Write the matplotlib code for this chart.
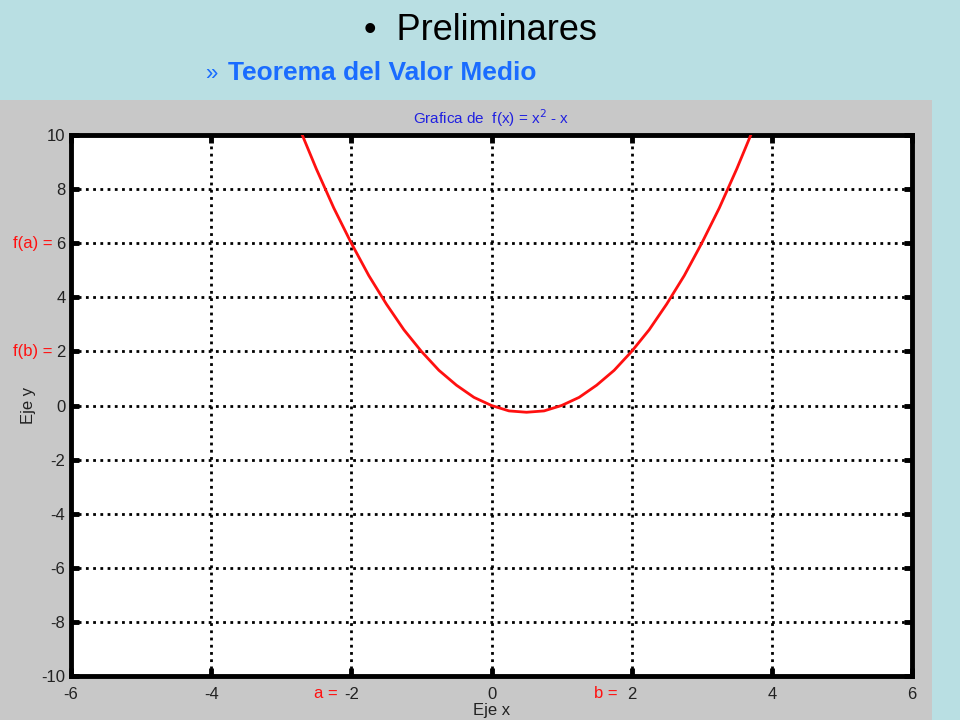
import matplotlib.pyplot as plt
from matplotlib.patches import Rectangle

# curve points
x_vals = [-2.7, -2.5, -2.25, -2, -1.75, -1.5, -1.25, -1, -0.75, -0.5, -0.25, 0,
          0.25, 0.5, 0.75, 1, 1.25, 1.5, 1.75, 2, 2.25, 2.5, 2.75, 3, 3.25, 3.5, 3.7]
y_vals = [10.0, 8.75, 7.3, 6.0, 4.8, 3.75, 2.8, 2.0, 1.3, 0.75, 0.3, 0.0,
          -0.2, -0.25, -0.2, 0.0, 0.3, 0.75, 1.3, 2.0, 2.8, 3.75, 4.8, 6.0, 7.3, 8.75, 10.0]
x_ticks = [-6, -4, -2, 0, 2, 4, 6]
y_ticks = [-10, -8, -6, -4, -2, 0, 2, 4, 6, 8, 10]
a, b = -2, 2
fa, fb = 6, 2

plt.rcParams['font.family'] = ['Liberation Sans', 'DejaVu Sans']
plt.rcParams['axes.unicode_minus'] = False

fig = plt.figure(figsize=(9.6, 7.2), dpi=100)
fig.patch.set_facecolor('#b9dfe3')

# grey matlab figure panel
fig.add_artist(Rectangle((0, 0), 932/960, 620/720, transform=fig.transFigure,
                         facecolor='#c8c8c8', edgecolor='none', zorder=-10))

fig.text(0.5, 1 - 30/720, '•  Preliminares', ha='center', va='center', fontsize=26)
fig.text(205/960, 1 - 74/720, '»', ha='left', va='center', fontsize=16, color='#1a6cff')
fig.text(228/960, 1 - 73/720, 'Teorema del Valor Medio', ha='left', va='center',
         fontsize=19, fontweight='bold', color='#1a6cff')

ax = fig.add_axes([71/960, 1 - 676/720, 841/960, 541/720])
ax.set_facecolor('white')
ax.plot(x_vals, y_vals, color='#ff1010', lw=2, zorder=3)
ax.set_xlim(-6, 6)
ax.set_ylim(-10, 10)
ax.set_xticks(x_ticks)
ax.set_yticks(y_ticks)
ax.grid(True, color='black', linestyle=(0, (1, 1.6)), linewidth=2)
for s in ax.spines.values():
    s.set_linewidth(3.5)
ax.tick_params(direction='in', length=6, width=3.5, labelsize=12,
               labelcolor='#222222', top=True, right=True)
ax.tick_params(axis='x', pad=8)
ax.tick_params(axis='y', pad=4)

ax.set_title('Grafica de  f(x) = x$^2$ - x', color='#2020e0', fontsize=11, pad=8)
ax.set_xlabel('Eje x', fontsize=12, color='#222222', labelpad=1)
ax.set_ylabel('Eje y', fontsize=12, color='#222222', labelpad=4)

# red annotations next to the tick labels
for xv, lab in [(a, 'a ='), (b, 'b =')]:
    ax.annotate(lab, xy=(xv, 0), xycoords=('data', 'axes fraction'),
                xytext=(-10, -7), textcoords='offset points',
                color='#ff1010', fontsize=12, ha='right', va='top')
for yv, lab in [(fa, 'f(a) ='), (fb, 'f(b) =')]:
    ax.annotate(lab, xy=(0, yv), xycoords=('axes fraction', 'data'),
                xytext=(-13, 0), textcoords='offset points',
                color='#ff1010', fontsize=12, ha='right', va='center')

fig.savefig('out.png', dpi=100, facecolor=fig.get_facecolor())
